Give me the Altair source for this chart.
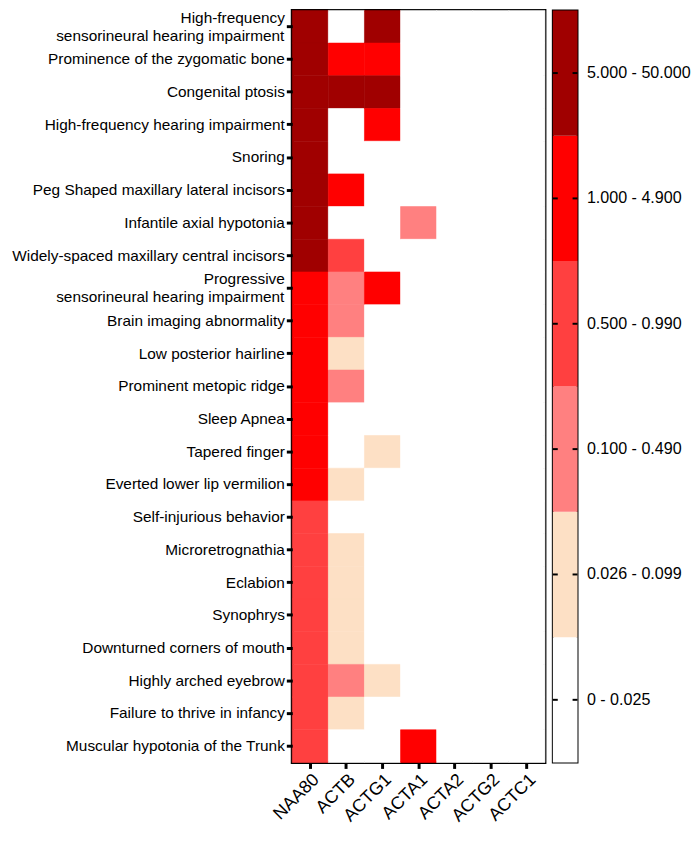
import altair as alt
import pandas as pd

# ---------------- data ----------------
phenotypes = [
    "High-frequency\u00a0\u00a0|sensorineural hearing impairment\u00a0",
    "Prominence of the zygomatic bone",
    "Congenital ptosis",
    "High-frequency hearing impairment",
    "Snoring",
    "Peg Shaped maxillary lateral incisors",
    "Infantile axial hypotonia",
    "Widely-spaced maxillary central incisors",
    "Progressive\u00a0\u00a0|sensorineural hearing impairment\u00a0",
    "Brain imaging abnormality",
    "Low posterior hairline",
    "Prominent metopic ridge",
    "Sleep Apnea",
    "Tapered finger",
    "Everted lower lip vermilion",
    "Self-injurious behavior\u00a0",
    "Microretrognathia",
    "Eclabion",
    "Synophrys",
    "Downturned corners of mouth",
    "Highly arched eyebrow",
    "Failure to thrive in infancy",
    "Muscular hypotonia of the Trunk",
]
genes = ["NAA80", "ACTB", "ACTG1", "ACTA1", "ACTA2", "ACTG2", "ACTC1"]

levels = ["0 - 0.025", "0.026 - 0.099", "0.100 - 0.490",
          "0.500 - 0.990", "1.000 - 4.900", "5.000 - 50.000"]
level_colors = ["#FFFFFF", "#FDE0C5", "#FF8080", "#FF4040", "#FF0000", "#A00000"]

# level index per phenotype (top to bottom) for each gene
naa80 = [5, 5, 5, 5, 5, 5, 5, 5, 4, 4, 4, 4, 4, 4, 4, 3, 3, 3, 3, 3, 3, 3, 3]
actb  = [0, 4, 5, 0, 0, 4, 0, 3, 2, 2, 1, 2, 0, 0, 1, 0, 1, 1, 1, 1, 2, 1, 0]
actg1 = [5, 4, 5, 4, 0, 0, 0, 0, 4, 0, 0, 0, 0, 1, 0, 0, 0, 0, 0, 0, 1, 0, 0]
acta1 = [0, 0, 0, 0, 0, 0, 2, 0, 0, 0, 0, 0, 0, 0, 0, 0, 0, 0, 0, 0, 0, 0, 4]
acta2 = [0, 0, 0, 0, 0, 0, 0, 0, 0, 0, 0, 0, 0, 0, 0, 0, 0, 0, 0, 0, 0, 0, 0]
actg2 = [0, 0, 0, 0, 0, 0, 0, 0, 0, 0, 0, 0, 0, 0, 0, 0, 0, 0, 0, 0, 0, 0, 0]
actc1 = [0, 0, 0, 0, 0, 0, 0, 0, 0, 0, 0, 0, 0, 0, 0, 0, 0, 0, 0, 0, 0, 0, 0]

gene_values = [naa80, actb, actg1, acta1, acta2, actg2, actc1]

rows = []
for g, vals in zip(genes, gene_values):
    for p, v in zip(phenotypes, vals):
        rows.append({"gene": g, "phenotype": p, "level": levels[v]})
df = pd.DataFrame(rows)

second_lines = pd.DataFrame(
    [{"phenotype": p, "line2": p.split("|")[1]} for p in phenotypes if "|" in p]
)
legend_df = pd.DataFrame({"level": levels})

FONT = "Arial, Liberation Sans"
YFS = 15.6

color_scale = alt.Scale(domain=levels, range=level_colors)

y_enc = alt.Y(
    "phenotype:N", sort=phenotypes, title=None,
    scale=alt.Scale(paddingInner=0, paddingOuter=0),
    axis=alt.Axis(
        labelExpr="split(datum.label, '|')[0]",
        labelOffset={"condition": {"test": "indexof(datum.value, '|') >= 0", "value": -9}, "value": 0},
        labelFontSize=YFS, labelFont=FONT, labelColor="black",
        tickColor="black", tickWidth=3, tickSize=6, domain=False,
        labelPadding=2, labelLimit=400),
)

cells = alt.Chart(df).mark_rect(strokeWidth=0.6).encode(
    x=alt.X("gene:N", sort=genes, title=None,
            scale=alt.Scale(paddingInner=0, paddingOuter=0),
            axis=alt.Axis(labelAngle=-45, labelFontSize=18, labelFont=FONT,
                          labelColor="black", tickColor="black", tickWidth=3,
                          tickSize=6, domain=False, labelPadding=2)),
    y=y_enc,
    color=alt.Color("level:N", scale=color_scale, legend=None),
    stroke=alt.Stroke("level:N", scale=color_scale, legend=None),
)

line2 = alt.Chart(second_lines).mark_text(
    align="right", baseline="middle", dy=9, fontSize=YFS, font=FONT, color="black"
).encode(
    y=alt.Y("phenotype:N", sort=phenotypes),
    x=alt.value(-8),
    text="line2:N",
)

heat = alt.layer(cells, line2).properties(
    width=256, height=762,
    view=alt.ViewBackground(stroke="black", strokeWidth=3),
)

leg_y = alt.Y("level:N", sort=list(reversed(levels)), title=None,
              scale=alt.Scale(paddingInner=0, paddingOuter=0),
              axis=alt.Axis(orient="right", ticks=False, domain=False,
                            labelFontSize=16.3, labelFont=FONT, labelColor="black",
                            labelPadding=9, labelLimit=300))

leg_rect = alt.Chart(legend_df).mark_rect().encode(
    y=leg_y,
    x=alt.value(0), x2=alt.value(25),
    color=alt.Color("level:N", scale=color_scale, legend=None),
)
leg_tick_l = alt.Chart(legend_df).mark_rule(color="black", strokeWidth=2).encode(
    y=leg_y, x=alt.value(0), x2=alt.value(5),
)
leg_tick_r = alt.Chart(legend_df).mark_rule(color="black", strokeWidth=2).encode(
    y=leg_y, x=alt.value(20), x2=alt.value(25),
)
legend = alt.layer(leg_rect, leg_tick_l, leg_tick_r).properties(
    width=25, height=762,
    view=alt.ViewBackground(stroke="black", strokeWidth=2),
)

chart = alt.hconcat(heat, legend, spacing=4).properties(
    padding={"left": 2, "top": -5, "right": 0, "bottom": 0}
).configure(font=FONT)

chart.save("out.html", embed_options={"renderer": "svg", "actions": False})
